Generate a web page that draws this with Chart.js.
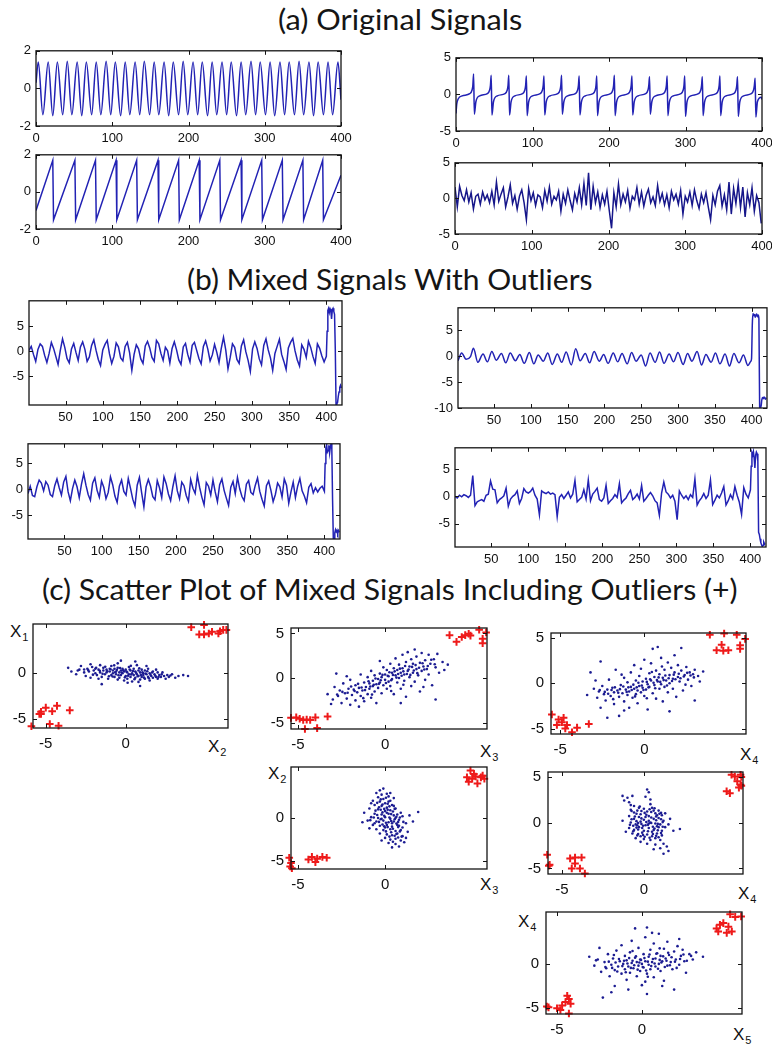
<!DOCTYPE html>
<html>
<head>
<meta charset="utf-8">
<script src="https://cdn.jsdelivr.net/npm/chart.js@4.4.1/dist/chart.umd.min.js"></script>
<style>
html, body { margin: 0; padding: 0; background: #fff; overflow: hidden; width: 772px; height: 1045px; }
.plot { position: absolute; }
.title { position: absolute; font-family: Lato, "DejaVu Sans", sans-serif; font-size: 28px; line-height: 28px; color: #151515; white-space: nowrap; transform-origin: 0 0; }
.lab { position: absolute; font-family: "Liberation Sans", Arial, sans-serif; font-size: 17px; line-height: 17px; color: #111; white-space: nowrap; }
.lab sub { font-size: 11px; vertical-align: -4px; line-height: 0; margin-left: 1px; }
</style>
</head>
<body>
<div class="title" style="left:278px;top:5px" data-w="244">(a) Original Signals</div>
<div class="title" style="left:187px;top:265px" data-w="406">(b) Mixed Signals With Outliers</div>
<div class="title" style="left:42px;top:575px" data-w="696">(c) Scatter Plot of Mixed Signals Including Outliers (+)</div>

<div class="lab" style="left:10px;top:623px">X<sub>1</sub></div>
<div class="lab" style="left:208px;top:738px">X<sub>2</sub></div>
<div class="lab" style="left:480px;top:743px">X<sub>3</sub></div>
<div class="lab" style="left:268px;top:765px">X<sub>2</sub></div>
<div class="lab" style="left:480px;top:876px">X<sub>3</sub></div>
<div class="lab" style="left:740px;top:746px">X<sub>4</sub></div>
<div class="lab" style="left:738px;top:885px">X<sub>4</sub></div>
<div class="lab" style="left:518px;top:913px">X<sub>4</sub></div>
<div class="lab" style="left:733px;top:1026px">X<sub>5</sub></div>

<script>
// ---- (a) original signals ----
// sine: extremes only
const sineX = [0,3,9,16,22,28,35,41,47,54,60,66,73,79,85,92,98,104,111,117,123,130,136,142,149,155,161,168,174,180,
  187,193,199,206,212,218,225,231,237,244,250,256,263,269,275,282,288,294,301,307,313,320,326,332,339,345,351,358,364,370,
  377,383,389,396,400];
const sineY = [0.3,
  1.4,-1.4,1.4,-1.45,1.4,-1.4,1.45,-1.4,1.4,-1.45,
  1.4,-1.4,1.4,-1.4,1.45,-1.4,1.4,-1.45,1.4,-1.4,
  1.4,-1.4,1.45,-1.4,1.4,-1.4,1.4,-1.45,1.4,-1.4,
  1.45,-1.4,1.4,-1.4,1.4,-1.45,1.4,-1.4,1.4,-1.4,
  1.4,-1.45,1.4,-1.4,1.45,-1.4,1.4,-1.4,1.4,-1.45,
  1.4,-1.4,1.4,-1.4,1.45,-1.4,1.4,-1.45,1.4,-1.4,
  1.4,-1.4,1.4,
  -0.6];

// sawtooth: corners
const sawX = [0,22,23,51,52,78,79,105,106,132,133,160,161,187,188,214,215,241,242,269,270,296,297,323,324,350,351,376,377,400];
const sawY = [-1.0,1.7,-1.5,1.7,-1.5,1.7,-1.5,1.7,-1.5,1.7,-1.5,1.7,-1.5,1.7,-1.5,1.7,-1.5,1.7,-1.5,1.7,-1.5,1.7,-1.5,1.7,-1.5,1.7,-1.5,1.7,-1.5,0.9];

// spiky periodic signal
const spikePts = [[0,-2.6],[1,-1.3],[3,-0.6],[8,-0.2],[18,0.1],[21,0.6],[22,1.2],[23,2.8],[24,-2.7],[26,-1.0],[31,-0.2],
  [41,0.1],[44,0.6],[45,1.2],[46,2.6],[47,-2.8],[49,-1.0],[54,-0.2],[64,0.1],[67,0.6],[68,1.2],[69,2.6],[70,-2.8],[72,-1.0],[77,-0.2],
  [87,0.1],[90,0.6],[91,1.2],[92,2.5],[93,-2.9],[95,-1.0],[100,-0.2],[110,0.1],[113,0.6],[114,1.2],[115,2.5],[116,-2.8],[118,-1.0],[123,-0.2],
  [133,0.1],[136,0.6],[137,1.2],[138,2.6],[139,-2.7],[141,-1.0],[146,-0.2],[156,0.1],[159,0.6],[160,1.2],[161,2.5],[162,-2.8],[164,-1.0],[169,-0.2],
  [179,0.1],[182,0.6],[183,1.2],[184,2.5],[185,-2.9],[187,-1.0],[192,-0.2],[202,0.1],[205,0.6],[206,1.2],[207,2.6],[208,-2.9],[210,-1.0],[215,-0.2],
  [225,0.1],[228,0.6],[229,1.2],[230,2.5],[231,-2.8],[233,-1.0],[238,-0.2],[248,0.1],[251,0.6],[252,1.2],[253,2.4],[254,-2.7],[256,-1.0],[261,-0.2],
  [271,0.1],[274,0.6],[275,1.2],[276,2.5],[277,-2.9],[279,-1.0],[284,-0.2],[294,0.1],[297,0.6],[298,1.2],[299,2.5],[300,-3.0],[302,-1.0],[307,-0.2],
  [317,0.1],[320,0.6],[321,1.2],[322,2.4],[323,-2.9],[325,-1.0],[330,-0.2],[340,0.1],[343,0.6],[344,1.2],[345,2.5],[346,-2.9],[348,-1.0],[353,-0.2],
  [363,0.1],[366,0.6],[367,1.2],[368,2.4],[369,-3.0],[371,-1.0],[376,-0.2],[386,0.1],[389,0.6],[390,1.2],[391,2.2],[392,-3.1],[394,-1.0],[399,-0.4],[400,-0.7]];

// noise, one value every 3 samples
const noiseStep = 3;
const noiseY = [1.6,-1.2,1.7,0.4,-0.3,1.2,-0.5,0.8,-1.5,0.3,0.6,-0.8,0.9,-0.2,0.5,-0.6,1.0,-0.9,2.3,-0.4,
  0.6,1.5,-1.2,0.2,1.9,-0.7,0.4,-1.5,0.3,1.2,-0.6,-3.0,1.4,-0.3,0.8,-1.0,0.5,0.2,-1.3,1.1,
  -0.4,1.6,-0.8,0.3,-0.2,1.0,-1.8,0.6,-0.7,1.2,-0.3,-1.6,0.7,-0.5,1.5,-0.9,2.1,-1.0,3.6,-1.6,
  1.7,-0.6,0.9,-1.3,0.5,-0.8,1.0,-1.7,-4.2,0.8,-1.2,2.0,-0.9,0.6,-0.5,1.1,-1.4,0.3,-0.2,1.5,
  -0.8,0.9,-1.1,0.4,1.3,-0.6,0.2,-1.0,1.8,-0.4,0.7,-0.9,0.5,-1.3,1.0,-0.2,0.6,-0.8,1.1,-2.2,
  0.3,-0.5,0.9,-1.0,1.2,-0.3,-1.4,0.6,-0.6,0.8,-1.2,-3.0,0.4,-0.9,1.0,1.8,-1.1,0.5,-1.6,2.3,
  -2.2,1.4,-0.7,2.0,-1.3,1.6,-2.6,0.8,-0.9,1.5,-1.8,0.4,-0.6,-3.5];

// ---- (b) mixed signals, 400 samples + 20 outliers ----
const mixStep = 3;
const mix1Y = [0.2,1.0,-0.6,-2.0,0.4,1.5,1.0,-0.8,-2.2,-0.4,
  1.8,0.6,-1.0,-2.6,0.2,2.5,0.8,-1.4,-2.3,0.5,
  1.6,-0.2,-1.8,0.9,1.9,0.4,-2.0,-1.1,1.2,2.3,
  0.2,-1.6,-2.8,0.3,1.4,2.2,-0.5,-2.4,-1.0,1.7,
  0.9,-1.3,-1.9,1.0,1.8,-0.3,-3.8,-0.6,1.3,0.5,
  -1.5,-2.4,1.1,2.0,0.7,-1.2,-2.0,2.2,1.5,-0.4,
  -1.8,0.8,0.1,-2.3,0.6,1.9,0.3,-1.7,-2.6,0.9,
  1.6,-0.6,-2.1,1.2,1.8,0.2,-1.4,-2.5,1.0,2.1,
  0.4,-1.9,-0.7,1.4,-0.2,-2.2,0.6,2.8,0.3,-3.5,
  -1.2,1.5,0.8,-1.6,-2.4,1.1,2.3,-0.1,-1.8,-4.0,
  0.5,1.9,0.6,-1.5,-2.7,1.2,2.5,0.3,-1.3,-3.8,
  -0.4,1.0,2.4,-0.6,-2.0,-3.6,0.7,1.8,2.6,0.1,
  -1.7,-2.9,1.3,0.4,-1.2,2.0,0.8,-1.0,-2.4,1.5,
  0.6,-0.9,-2.1,-1.0];
const mix1Out = [[401,4.0],[402,8.2],[403,8.6],[404,7.8],[405,8.5],[406,8.1],[407,6.5],[408,8.3],[409,8.6],[410,8.0],
  [411,7.4],[412,0.5],[413,-10.6],[414,-10.5],[415,-10.2],[416,-9.0],[417,-8.1],[418,-7.2],[419,-6.8],[420,-7.3]];

const mix2Pts = [[1,-0.9],[6,0.6],[12,-0.6],[18,-0.1],[22,1.5],[28,-1.2],[35,0.4],[41,-1.1],[47,0.9],[53,-0.8],
  [60,0.5],[66,-1.3],[72,0.6],[79,-0.9],[85,0.3],[91,-1.4],[98,0.7],[104,-1.5],[110,0.2],[117,-1.0],
  [123,0.6],[129,-1.6],[136,0.4],[142,-1.2],[148,0.8],[155,-1.7],[161,1.4],[167,-0.9],[174,0.5],[180,-1.3],
  [186,0.9],[193,-1.0],[199,0.3],[205,-1.4],[212,0.6],[218,-1.1],[224,0.5],[231,-1.5],[237,0.7],[243,-1.0],
  [250,0.2],[256,-1.9],[262,0.6],[269,-1.2],[275,0.8],[281,-1.4],[288,0.4],[294,-1.1],[300,0.7],[307,-1.6],
  [313,0.5],[319,-1.0],[326,0.9],[332,-1.7],[338,0.3],[345,-1.2],[351,0.6],[357,-1.5],[364,0.4],[370,-1.9],
  [376,0.5],[383,-1.3],[389,0.2],[395,-1.8],[399,-1.0],[400,-0.5]];
const mix2Out = [[401,6.0],[402,8.2],[403,7.8],[404,8.0],[405,7.5],[406,7.9],[407,8.1],[408,7.6],[409,7.9],[410,7.2],
  [411,-9.8],[412,-10.0],[413,-9.6],[414,-8.4],[415,-8.0],[416,-8.2],[417,-7.9],[418,-8.1],[419,-8.3],[420,-8.0]];

const mix3Y = [-0.8,0.6,-1.2,-1.4,0.5,1.8,1.2,-0.3,1.5,0.8,
  -1.0,-1.4,0.7,2.0,0.3,-1.1,1.4,2.5,-0.5,-2.2,
  0.2,1.8,0.5,-1.6,1.0,3.0,0.8,-1.0,-2.1,1.2,
  2.2,-0.2,-1.5,1.6,0.4,-1.8,-0.6,2.4,0.9,-1.3,
  -2.5,0.6,1.8,-0.4,-1.1,2.1,0.2,-1.9,-3.2,0.8,
  2.3,-0.7,-3.4,0.5,1.9,0.6,-1.4,-2.0,1.7,0.3,
  -1.6,2.4,1.1,-0.9,-2.2,0.5,2.6,-0.3,-1.8,1.4,
  0.7,-1.2,-2.3,1.9,0.2,-0.8,2.7,0.4,-1.5,-3.0,
  1.3,0.6,-1.1,1.8,-0.5,-2.4,0.9,2.0,-0.2,-1.7,
  -3.1,0.4,1.5,-0.8,2.3,0.1,-1.4,-2.2,1.0,1.7,
  -0.6,-1.0,0.8,2.2,-0.4,-1.9,-3.2,0.7,1.6,-0.2,
  -2.4,-1.0,1.2,0.5,-1.5,2.0,0.8,-2.7,-0.5,1.4,
  -1.6,0.6,2.1,-0.3,-1.3,-2.6,0.4,1.1,-0.7,0.3,
  -0.5,0.2,0.6,-0.4];
const mix3Out = [[401,5.0],[402,8.0],[403,8.6],[404,7.2],[405,7.5],[406,8.5],[407,7.0],[408,8.2],[409,8.8],[410,7.8],
  [411,-2.0],[412,-9.6],[413,-9.5],[414,-8.4],[415,-7.8],[416,-8.2],[417,-7.9],[418,-8.5],[419,-8.0],[420,-8.3]];

const mix4Y = [0.0,-0.3,0.2,-0.1,0.3,0.1,-0.2,0.2,3.8,-1.7,
  -1.0,-0.8,-0.6,-0.9,0.2,0.4,2.8,1.3,1.2,-1.2,
  -0.6,-0.3,0.1,1.5,-1.8,-0.5,0.0,0.3,1.0,-1.3,
  -0.4,1.4,0.8,0.6,0.9,1.5,0.2,-0.5,-3.4,1.0,
  0.7,0.5,0.8,0.4,0.6,0.3,-3.7,-0.2,0.3,-0.4,
  0.2,0.8,-0.3,0.4,2.9,-1.0,-0.6,-0.2,1.2,-0.5,
  3.0,-0.8,0.4,0.9,1.5,-0.6,-0.9,-0.3,2.0,-1.3,
  -0.8,-0.4,0.3,-0.2,2.3,-1.2,-0.7,-0.3,0.5,1.1,
  -0.6,-0.2,0.4,-0.5,2.0,-0.9,-0.4,0.2,0.7,0.1,
  -0.8,-1.2,-3.5,0.6,2.6,0.8,0.4,-0.3,0.2,-0.9,
  -4.3,1.0,0.2,-0.4,0.1,-0.6,0.3,-0.2,3.2,-1.6,
  -0.8,-0.3,0.5,-0.4,0.2,3.0,-1.5,-0.7,0.2,-0.3,
  0.6,1.8,-1.6,-0.8,0.3,-0.5,1.8,0.2,-1.1,-3.3,
  1.6,0.4,-0.3,1.2];
const mix4Out = [[401,5.5],[402,8.0],[403,7.6],[404,8.2],[405,7.0],[406,5.2],[407,7.5],[408,8.1],[409,7.8],[410,6.5],
  [411,-6.6],[412,-7.0],[413,-7.8],[414,-8.5],[415,-8.9],[416,-9.2],[417,-9.0],[418,-8.4],[419,-8.7],[420,-8.8]];

// ---- (c) scatter clouds [x, y] and outliers ----
const sc12 = [[-3.6,0.6],[-3.4,0.2],[-3.1,-0.1],[-2.9,0.4],[-2.8,0.8],[-2.6,0.1],[-2.5,-0.3],[-2.4,0.5],[-2.3,0.2],[-2.2,-0.5],
  [-2.1,0.7],[-2.0,0.3],[-1.9,0.0],[-1.9,0.5],[-1.8,-0.2],[-1.7,0.4],[-1.6,0.9],[-1.6,0.1],[-1.5,-0.4],[-1.4,0.3],
  [-1.4,0.6],[-1.3,-0.1],[-1.2,0.4],[-1.2,0.1],[-1.1,-0.6],[-1.0,0.5],[-1.0,0.2],[-0.9,-0.2],[-0.9,0.8],[-0.8,0.3],
  [-0.8,0.0],[-0.7,-0.4],[-0.7,0.5],[-0.6,0.2],[-0.6,-0.1],[-0.5,0.6],[-0.5,1.1],[-0.4,0.1],[-0.4,-0.5],[-0.3,0.3],
  [-0.3,-0.2],[-0.2,0.5],[-0.2,0.0],[-0.1,-0.8],[-0.1,0.2],[0.0,0.4],[0.0,-0.3],[0.1,0.1],[0.1,-0.6],[0.2,0.7],
  [0.2,-0.1],[0.3,0.3],[0.3,-0.4],[0.4,0.0],[0.4,-0.9],[0.5,0.5],[0.5,-0.2],[0.6,0.2],[0.6,-0.5],[0.7,-0.1],
  [0.7,0.9],[0.8,0.3],[0.8,-0.3],[0.9,-0.7],[0.9,0.1],[1.0,-0.4],[1.0,0.4],[1.1,0.0],[1.1,-0.2],[1.2,-0.6],
  [1.2,0.3],[1.3,-0.1],[1.4,-0.4],[1.4,0.5],[1.5,0.0],[1.5,-0.8],[1.6,-0.3],[1.7,0.2],[1.7,-0.5],[1.8,-0.1],
  [1.9,-0.4],[2.0,0.1],[2.0,-0.6],[2.1,-0.2],[2.2,-0.4],[2.3,0.1],[2.4,-0.3],[2.5,-0.6],[2.6,-0.2],[2.7,-0.4],
  [2.9,-0.1],[3.1,-0.5],[3.3,-0.3],[3.6,-0.2],[-0.3,1.4],[0.6,1.3],[-1.5,-1.2],[0.9,-1.4],[-2.2,1.0],[1.3,0.8],
  [-2.35,0.35],[-2.05,-0.15],[-1.85,0.62],[-1.62,0.28],[-1.45,-0.05],[-1.28,0.72],[-1.15,0.22],[-0.95,0.45],[-0.82,-0.35],[-0.66,0.12],
  [-0.55,0.38],[-0.45,-0.22],[-0.35,0.58],[-0.25,0.08],[-0.15,0.33],[-0.05,-0.45],[0.05,0.18],[0.15,-0.28],[0.25,0.42],[0.35,-0.12],
  [0.45,0.25],[0.55,-0.65],[0.65,0.05],[0.75,-0.32],[0.85,0.55],[0.95,-0.18],[1.05,0.12],[1.15,-0.48],[1.25,-0.02],[1.35,0.22],
  [1.45,-0.55],[1.55,-0.15],[1.65,0.08],[1.85,-0.28],[2.05,-0.42],[2.25,-0.12],[-0.72,0.88],[0.32,0.82],[-1.05,-0.32],[0.12,-1.05],
  [-2.6,0.42],[2.8,-0.25],[-3.0,0.3],[3.9,-0.3],[-0.5,-0.7],[0.8,-0.95],[-1.7,-0.6],[1.9,0.4]];
const out12 = [[4.1,5.1],[4.6,4.3],[4.9,5.35],[4.9,4.3],[5.2,4.4],[5.8,4.4],[5.9,4.65],[6.1,4.8],[6.3,4.8],[5.4,4.6],
  [-5.9,-5.85],[-5.4,-4.5],[-5.3,-4.25],[-5.0,-3.8],[-4.6,-4.2],[-4.3,-3.6],[-4.75,-5.6],[-4.2,-5.8],[-3.5,-4.1],[-5.3,-4.5]];

const sc13 = [[-3.3,-1.8],[-3.0,-2.4],[-2.9,-1.0],[-2.7,-2.0],[-2.6,-1.4],[-2.5,-2.8],[-2.4,-0.6],[-2.3,-1.7],[-2.2,-2.3],[-2.1,-1.2],
  [-2.0,-3.0],[-2.0,-0.2],[-1.9,-1.9],[-1.8,-1.3],[-1.7,-2.5],[-1.7,-0.8],[-1.6,-1.6],[-1.5,-3.2],[-1.5,-1.1],[-1.4,0.4],
  [-1.4,-2.0],[-1.3,-1.4],[-1.2,-0.5],[-1.2,-2.6],[-1.1,-1.0],[-1.0,-1.8],[-1.0,0.1],[-0.9,-1.2],[-0.9,-0.6],[-0.8,-2.2],
  [-0.8,0.8],[-0.7,-0.9],[-0.7,-0.3],[-0.6,-1.5],[-0.6,0.3],[-0.5,-0.7],[-0.5,-2.8],[-0.4,-0.1],[-0.4,-1.1],[-0.3,0.5],
  [-0.3,-0.5],[-0.2,-1.7],[-0.2,0.1],[-0.1,-0.8],[-0.1,1.2],[0.0,-0.2],[0.0,0.4],[0.1,-1.2],[0.1,0.9],[0.2,-0.4],
  [0.2,0.2],[0.3,1.6],[0.3,-0.9],[0.4,0.6],[0.4,-0.1],[0.5,1.1],[0.5,-1.8],[0.6,0.3],[0.6,2.2],[0.7,-0.5],
  [0.7,0.9],[0.8,1.5],[0.8,0.0],[0.9,-1.2],[0.9,0.6],[1.0,2.6],[1.0,1.1],[1.1,-0.3],[1.1,0.4],[1.2,1.8],
  [1.2,-2.1],[1.3,0.8],[1.3,2.9],[1.4,0.1],[1.4,1.3],[1.5,-0.9],[1.5,2.1],[1.6,0.6],[1.6,1.6],[1.7,3.2],
  [1.7,-0.4],[1.8,1.0],[1.8,2.4],[1.9,0.3],[2.0,1.7],[2.0,-1.5],[2.1,2.8],[2.1,0.8],[2.2,1.3],[2.3,2.0],
  [2.3,-0.2],[2.4,1.0],[2.5,2.6],[2.5,0.4],[2.6,1.6],[2.7,-0.8],[2.8,2.1],[2.9,1.2],[3.0,2.7],[3.1,0.6],
  [3.3,1.8],[3.6,1.5],[-2.8,0.5],[-3.1,-2.9],[0.9,-2.8],[2.9,-2.4],
  [-2.75,-1.85],[-2.45,-1.55],[-2.15,-1.65],[-1.95,-0.95],[-1.75,-1.45],[-1.55,-0.65],[-1.35,-1.05],[-1.15,-1.35],[-0.95,-0.35],[-0.85,-0.95],
  [-0.65,-0.75],[-0.55,-0.05],[-0.35,-0.65],[-0.25,-0.25],[-0.15,0.35],[0.05,-0.55],[0.15,0.25],[0.25,0.65],[0.35,-0.25],[0.45,0.35],
  [0.55,0.75],[0.65,0.05],[0.75,0.45],[0.85,1.05],[0.95,0.25],[1.05,0.75],[1.15,1.35],[1.25,0.45],[1.35,0.95],[1.45,0.35],
  [1.55,1.25],[1.65,0.85],[1.75,1.45],[1.85,0.55],[1.95,1.15],[2.15,1.65],[2.25,0.95],[2.45,1.35],[2.65,2.05],[2.85,1.55],
  [-1.25,-2.25],[-0.75,-1.85],[0.35,-1.45],[1.05,-0.75],[-2.2,0.2],[-0.3,1.9],[2.2,-1.0],[3.4,0.9]];
const out13 = [[3.7,4.8],[4.1,4.05],[4.4,4.6],[4.6,4.8],[4.8,4.95],[4.9,4.75],[5.4,5.4],[5.6,4.4],[5.6,3.9],[5.8,5.1],
  [-5.4,-4.45],[-5.1,-4.4],[-4.9,-4.55],[-4.7,-4.7],[-4.5,-4.65],[-4.3,-4.7],[-4.0,-4.4],[-4.6,-5.7],[-3.9,-5.6],[-3.3,-4.3]];

const sc23 = [[-0.3,3.2],[-0.1,3.4],[-0.5,2.9],[-0.2,2.7],[0.1,2.8],[-0.4,2.4],[-0.1,2.2],[0.2,2.5],[-0.7,2.0],[-0.3,1.9],
  [0.0,1.7],[0.3,2.0],[-0.6,1.5],[-0.2,1.4],[0.1,1.2],[0.4,1.5],[-0.9,1.1],[-0.4,1.0],[0.0,0.8],[0.3,0.9],
  [0.6,1.1],[-1.2,0.6],[-0.6,0.5],[-0.2,0.4],[0.2,0.5],[0.5,0.3],[0.9,0.6],[-0.8,0.1],[-0.4,0.0],[0.0,0.1],
  [0.3,-0.1],[0.6,0.0],[1.0,0.2],[1.4,0.3],[-1.0,-0.3],[-0.5,-0.4],[-0.1,-0.3],[0.2,-0.5],[0.5,-0.4],[0.8,-0.2],
  [1.2,-0.6],[-0.7,-0.8],[-0.3,-0.9],[0.1,-0.8],[0.4,-1.0],[0.7,-0.8],[1.0,-1.1],[-0.5,-1.3],[-0.1,-1.4],[0.3,-1.3],
  [0.6,-1.5],[0.9,-1.4],[1.3,-1.6],[-0.3,-1.8],[0.1,-1.9],[0.4,-2.0],[0.7,-1.8],[1.0,-2.1],[0.0,-2.3],[0.3,-2.5],
  [0.6,-2.4],[0.9,-2.6],[0.2,-2.9],[0.6,-3.0],[0.8,-3.3],[0.4,-3.4],[1.1,-2.8],[-0.2,-2.6],[-0.8,1.7],[0.5,2.3],
  [1.9,0.7],[1.6,-0.4],[-1.3,-0.5],[0.1,0.6],[0.4,-0.6],[-0.2,-0.1],[0.2,1.9],[0.8,-0.9],[0.0,-1.1],[0.5,1.4],
  [-0.6,-0.6],[0.7,0.4],[0.3,2.9],[-0.9,-1.2],[1.2,-2.3],
  [-0.25,2.15],[0.05,2.35],[-0.45,1.75],[-0.15,1.55],[0.15,1.65],[-0.35,1.25],[-0.05,1.05],[0.25,1.35],[-0.55,0.85],[-0.15,0.65],
  [0.15,0.95],[0.45,0.75],[-0.45,0.35],[-0.05,0.25],[0.35,0.45],[0.65,0.15],[-0.25,-0.15],[0.05,-0.55],[0.35,-0.35],[0.65,-0.65],
  [-0.15,-0.75],[0.15,-1.05],[0.45,-1.25],[0.75,-1.05],[0.05,-1.55],[0.35,-1.65],[0.65,-1.85],[0.85,-1.55],[0.25,-2.15],[0.55,-2.05],
  [0.75,-2.25],[0.45,-2.75],[0.95,-2.15],[-0.65,0.05],[0.85,0.05],[-0.35,-0.45],[0.55,-0.15],[0.25,0.05],[-0.05,-0.95],[0.55,1.05],
  [-0.85,-0.25],[1.05,-0.45],[-0.25,0.95],[0.75,-0.45]];
const out23 = [[4.9,5.5],[4.7,4.7],[5.0,4.55],[5.2,4.8],[5.5,4.7],[5.7,4.55],[4.8,4.2],[5.3,4.0],[5.6,4.9],[5.1,5.1],
  [-5.5,-4.6],[-5.45,-5.6],[-5.35,-5.8],[-4.2,-4.5],[-3.9,-4.7],[-3.6,-4.5],[-3.35,-4.6],[-4.0,-5.1],[-4.4,-4.8],[-5.4,-5.2]];

const sc14 = [[-3.2,1.2],[-3.4,-1.3],[-3.0,-0.6],[-2.8,-1.6],[-2.7,-0.9],[-2.6,-2.7],[-2.5,-0.3],[-2.4,-1.2],[-2.3,-1.9],[-2.2,-3.8],
  [-2.2,-0.7],[-2.1,0.4],[-2.0,-1.4],[-1.9,-0.5],[-1.8,-2.3],[-1.8,-1.0],[-1.7,1.5],[-1.6,-0.8],[-1.5,-3.6],[-1.5,-1.5],
  [-1.4,-0.2],[-1.3,-1.1],[-1.2,-2.0],[-1.2,0.6],[-1.1,-0.7],[-1.0,-1.3],[-1.0,0.1],[-0.9,-2.7],[-0.9,-0.9],[-0.8,1.2],
  [-0.8,-0.4],[-0.7,-1.6],[-0.6,-0.6],[-0.6,2.0],[-0.5,-1.2],[-0.5,0.3],[-0.4,-0.8],[-0.4,-2.2],[-0.3,0.8],[-0.3,-0.3],
  [-0.2,-1.0],[-0.2,1.6],[-0.1,-0.5],[-0.1,0.2],[0.0,-1.4],[0.0,2.6],[0.1,0.5],[0.1,-0.7],[0.2,-0.1],[0.2,-2.9],
  [0.3,1.1],[0.3,-0.4],[0.4,0.3],[0.4,2.2],[0.5,3.8],[0.5,-1.1],[0.6,0.7],[0.6,-0.2],[0.7,1.4],[0.7,-1.7],
  [0.8,4.0],[0.8,0.2],[0.9,-0.6],[0.9,1.0],[1.0,2.8],[1.0,-0.1],[1.1,0.6],[1.1,-2.0],[1.2,1.5],[1.2,-0.4],
  [1.3,0.3],[1.4,2.3],[1.4,-1.0],[1.5,0.9],[1.5,0.0],[1.6,1.7],[1.7,-0.6],[1.7,0.5],[1.8,3.1],[1.8,1.2],
  [1.9,-1.5],[2.0,0.7],[2.0,2.0],[2.1,0.2],[2.2,3.9],[2.2,1.4],[2.3,-0.8],[2.4,0.9],[2.5,1.8],[2.6,0.4],
  [2.7,1.2],[2.8,-0.3],[2.9,1.0],[3.0,1.5],[3.2,0.8],[3.5,1.3],[-2.6,2.4],[3.0,-1.9],[1.5,-3.1],[-1.2,-3.0],
  [-2.65,-0.75],[-2.35,-0.95],[-2.15,-1.15],[-1.95,-0.75],[-1.75,-0.45],[-1.55,-1.05],[-1.45,-0.65],[-1.25,-0.35],[-1.05,-0.95],[-0.95,-0.45],
  [-0.75,-0.75],[-0.65,-0.15],[-0.45,-0.45],[-0.35,0.05],[-0.15,-0.25],[-0.05,-0.75],[0.15,0.15],[0.25,-0.45],[0.35,0.45],[0.55,0.05],
  [0.65,-0.55],[0.75,0.35],[0.85,0.65],[0.95,0.15],[1.15,0.35],[1.25,0.85],[1.35,-0.25],[1.45,0.55],[1.65,0.25],[1.75,0.95],
  [1.85,0.45],[2.05,1.05],[2.15,0.55],[2.35,0.75],[2.55,1.15],[2.75,0.85],[2.95,0.65],[-1.85,-1.75],[-0.55,-1.45],[0.45,1.25],
  [1.05,1.85],[-1.35,0.95],[0.15,-1.65],[2.45,-0.15],[-2.9,0.3],[3.3,0.2]];
const out14 = [[3.9,5.35],[4.75,5.5],[5.5,5.35],[6.0,4.9],[4.6,4.25],[4.3,3.65],[4.7,3.6],[5.0,3.65],[5.7,4.2],[5.7,3.8],
  [-5.5,-3.45],[-5.1,-4.0],[-4.8,-3.8],[-5.2,-4.6],[-4.6,-4.6],[-4.7,-5.0],[-4.3,-5.4],[-4.0,-4.9],[-3.3,-4.5],[-4.9,-4.3]];

const sc24 = [[-1.3,2.9],[-1.2,2.4],[-1.0,2.7],[-0.9,2.2],[-0.7,2.9],[-0.8,1.9],[0.2,3.6],[0.3,3.3],[0.1,2.8],[-0.3,1.6],
  [0.4,2.0],[-0.8,1.4],[-0.6,1.1],[-0.4,1.3],[-0.2,0.9],[0.0,1.5],[0.2,1.2],[0.5,1.6],[0.7,1.0],[0.9,1.3],
  [1.1,0.8],[-0.9,0.7],[-0.6,0.4],[-0.3,0.6],[0.0,0.3],[0.3,0.7],[0.6,0.4],[0.9,0.5],[1.2,0.2],[-0.8,0.0],
  [-0.5,-0.2],[-0.2,0.1],[0.1,-0.3],[0.4,0.0],[0.7,-0.1],[1.0,-0.2],[-0.9,-0.6],[-0.6,-0.8],[-0.3,-0.5],[0.0,-0.9],
  [0.3,-0.6],[0.6,-0.8],[0.9,-0.5],[1.1,-0.9],[-0.7,-1.2],[-0.4,-1.4],[-0.1,-1.1],[0.2,-1.3],[0.5,-1.5],[0.8,-1.2],
  [1.1,-1.4],[-0.5,-1.7],[0.0,-1.8],[0.4,-1.9],[0.7,-1.7],[1.0,-1.9],[1.3,-0.5],[1.5,-0.2],[1.8,-0.9],[2.2,-0.7],
  [1.6,0.4],[-1.1,-1.0],[-1.3,0.2],[0.2,-2.3],[0.7,-2.4],[1.2,-2.3],[1.4,-2.6],[1.5,-3.1],[1.2,-3.4],[0.6,-2.9],
  [1.0,-2.8],[-0.2,-2.1],[0.3,0.2],[0.8,0.8],[-0.4,-0.3],[0.5,-1.0],[0.1,0.6],[-0.1,-0.6],[0.6,1.3],[0.9,-1.6],
  [-0.6,1.8],[0.4,2.5],[0.8,-0.4],[-0.2,-1.5],[1.3,1.0],[0.3,-0.1],
  [-0.75,1.25],[-0.45,0.95],[-0.15,1.25],[0.15,0.85],[0.45,1.15],[0.75,0.65],[1.05,1.05],[-0.75,0.35],[-0.45,0.15],[-0.15,0.45],
  [0.15,0.05],[0.45,0.55],[0.75,0.25],[1.05,0.35],[-0.65,-0.35],[-0.35,-0.05],[-0.05,-0.35],[0.25,-0.25],[0.55,-0.45],[0.85,-0.15],
  [1.15,-0.45],[-0.65,-0.95],[-0.35,-0.75],[-0.05,-1.35],[0.25,-0.95],[0.55,-1.25],[0.85,-0.85],[1.05,-1.15],[-0.35,-1.25],[0.05,-1.55],
  [0.35,-1.65],[0.75,-1.45],[-0.55,0.65],[0.35,1.45],[0.65,1.55],[-0.25,1.75],[0.95,0.95],[-0.85,-0.25],[1.15,0.05],[0.05,1.05],
  [0.45,-0.05],[-0.15,-0.15],[0.65,-0.65],[-0.45,-0.55]];
const out24 = [[5.35,5.2],[5.55,5.0],[5.9,5.2],[5.95,4.95],[5.7,4.5],[5.9,4.1],[5.95,4.0],[5.05,3.4],[5.25,3.2],[5.8,3.8],
  [-5.9,-3.5],[-5.8,-4.7],[-4.5,-3.9],[-4.2,-3.8],[-3.8,-3.8],[-4.2,-4.45],[-4.4,-5.0],[-3.9,-5.0],[-3.6,-5.55],[-5.75,-4.6]];

const sc45 = [[-3.1,0.8],[-2.8,-0.2],[-2.6,0.5],[-2.4,-0.9],[-2.3,-3.8],[-2.2,0.2],[-2.1,-0.5],[-2.0,1.1],[-1.9,-1.4],[-1.8,-0.1],
  [-1.7,0.6],[-1.6,-0.7],[-1.6,-2.5],[-1.5,1.5],[-1.4,-0.3],[-1.3,0.3],[-1.2,-1.1],[-1.2,2.1],[-1.1,0.0],[-1.0,-0.6],
  [-1.0,0.9],[-0.9,-1.8],[-0.9,0.4],[-0.8,-0.3],[-0.7,1.3],[-0.7,-1.0],[-0.6,0.1],[-0.6,2.6],[-0.5,-0.5],[-0.4,4.0],
  [-0.4,0.7],[-0.3,-1.4],[-0.3,0.2],[-0.2,-0.2],[-0.2,1.8],[-0.1,-0.8],[-0.1,0.5],[0.0,-2.4],[0.0,0.0],[0.1,1.1],
  [0.1,-0.4],[0.2,0.3],[0.2,3.0],[0.3,4.1],[0.3,-3.4],[0.3,-1.1],[0.4,0.8],[0.4,-0.1],[0.5,1.6],[0.5,-0.6],
  [0.6,0.2],[0.7,2.3],[0.7,-1.5],[0.8,0.6],[0.8,-0.3],[0.9,1.2],[1.0,0.0],[1.0,3.4],[1.1,-0.8],[1.1,0.9],
  [1.2,0.3],[1.3,1.7],[1.3,-1.9],[1.4,0.6],[1.5,-0.2],[1.5,2.5],[1.6,1.0],[1.7,0.2],[1.8,-0.6],[1.9,-2.9],
  [1.9,1.4],[2.0,0.5],[2.1,2.0],[2.2,-0.1],[2.3,0.9],[2.4,1.6],[2.5,0.3],[2.6,-1.0],[2.8,1.1],[3.0,0.5],
  [3.2,1.3],[3.6,0.8],[-1.8,-3.2],[-0.8,-2.9],[1.2,-2.5],[2.2,2.8],[-2.5,1.8],[0.6,3.5],
  [-2.15,-0.35],[-1.95,0.25],[-1.75,-0.45],[-1.55,0.15],[-1.45,-0.85],[-1.35,0.55],[-1.15,-0.25],[-1.05,0.35],[-0.95,-0.95],[-0.85,0.05],
  [-0.75,0.65],[-0.65,-0.45],[-0.55,0.35],[-0.45,-0.15],[-0.35,0.85],[-0.25,-0.65],[-0.15,0.15],[-0.05,0.45],[0.05,-0.35],[0.15,0.65],
  [0.25,-0.75],[0.35,0.25],[0.45,1.05],[0.55,-0.25],[0.65,0.55],[0.75,0.05],[0.85,1.15],[0.95,-0.55],[1.05,0.45],[1.15,0.15],
  [1.25,0.85],[1.35,-0.35],[1.45,0.35],[1.55,1.25],[1.65,-0.15],[1.75,0.75],[1.95,0.25],[2.05,-0.45],[2.25,0.55],[2.45,1.05],
  [2.65,0.35],[-0.55,1.45],[0.35,-1.45],[1.05,1.75],[-1.65,1.0],[2.9,0.9],[-2.7,0.4],[0.2,-2.0]];
const out45 = [[5.2,5.6],[5.5,5.3],[5.85,5.35],[4.6,4.4],[4.8,4.6],[4.4,4.0],[4.5,3.65],[5.0,3.5],[5.3,3.65],[5.1,4.2],
  [-5.6,-4.8],[-5.5,-4.9],[-4.8,-5.2],[-4.7,-4.7],[-4.4,-3.6],[-4.3,-3.95],[-4.2,-4.5],[-4.5,-4.3],[-4.3,-5.6],[-5.0,-5.0]];

// tick labels
const ticksA = [0, 100, 200, 300, 400];
const ticksB = [50, 100, 150, 200, 250, 300, 350, 400];

// ---- drawing ----
const PADL = 44, PADT = 12, PADR = 18, PADB = 30;
const LINE = '#2222b4', DARK = '#16168a', DOT = '#1c1c92', RED = '#ee1a1a';

const frame = {
  id: 'frame',
  afterDraw(chart) {
    const { ctx, chartArea: a, scales } = chart;
    ctx.save();
    ctx.strokeStyle = '#141414';
    ctx.lineWidth = 1.3;
    ctx.strokeRect(a.left, a.top, a.right - a.left, a.bottom - a.top);
    ctx.lineWidth = 1;
    ctx.beginPath();
    scales.x.ticks.forEach(t => {
      const p = Math.round(scales.x.getPixelForValue(t.value)) + 0.5;
      ctx.moveTo(p, a.bottom); ctx.lineTo(p, a.bottom - 4);
      ctx.moveTo(p, a.top); ctx.lineTo(p, a.top + 4);
    });
    scales.y.ticks.forEach(t => {
      const p = Math.round(scales.y.getPixelForValue(t.value)) + 0.5;
      ctx.moveTo(a.left, p); ctx.lineTo(a.left + 4, p);
      ctx.moveTo(a.right, p); ctx.lineTo(a.right - 4, p);
    });
    ctx.stroke();
    ctx.restore();
  }
};

function axis(min, max, ticks, horiz, size, pad) {
  return {
    type: 'linear', min: min, max: max,
    afterBuildTicks: s => { s.ticks = ticks.map(v => ({ value: v })); },
    afterFit: s => { if (horiz) s.height = PADB; else s.width = PADL; },
    grid: { display: false, drawTicks: false },
    border: { display: false },
    ticks: {
      color: '#111', padding: pad, maxRotation: 0, autoSkip: false,
      font: { family: '"Liberation Sans", Arial, sans-serif', size: size },
      callback: v => String(v)
    }
  };
}

function makePlot(box, xr, yr, xt, yt, datasets, big) {
  const w = box.r - box.l + PADL + PADR, h = box.b - box.t + PADT + PADB;
  const div = document.createElement('div');
  div.className = 'plot';
  div.style.left = (box.l - PADL) + 'px';
  div.style.top = (box.t - PADT) + 'px';
  const cv = document.createElement('canvas');
  cv.width = w; cv.height = h;
  cv.style.width = w + 'px'; cv.style.height = h + 'px';
  div.appendChild(cv);
  document.body.appendChild(div);
  const size = big ? 15 : 13, pad = big ? 7 : 5;
  new Chart(cv, {
    type: 'scatter',
    data: { datasets: datasets },
    options: {
      responsive: false, animation: false, devicePixelRatio: 1,
      layout: { padding: { left: 0, top: PADT, right: PADR, bottom: 0 } },
      plugins: { legend: { display: false }, tooltip: { enabled: false } },
      scales: {
        x: axis(xr[0], xr[1], xt, true, size, pad),
        y: axis(yr[0], yr[1], yt, false, size, pad)
      }
    },
    plugins: [frame]
  });
}

const zip = (xs, ys) => xs.map((x, i) => ({ x: x, y: ys[i] }));
const grid = (ys, step, start) => ys.map((y, i) => ({ x: start + i * step, y: y }));
const pairs = arr => arr.map(p => ({ x: p[0], y: p[1] }));

function line(points, color, smooth) {
  return {
    data: points, showLine: true, pointRadius: 0, borderColor: color, borderWidth: 1.5,
    cubicInterpolationMode: smooth ? 'monotone' : 'default', tension: 0
  };
}
function cloud(pts) {
  return { data: pairs(pts), pointRadius: 1.3, pointBorderWidth: 0, backgroundColor: DOT, borderColor: DOT };
}
function crosses(pts) {
  return { data: pairs(pts), pointStyle: 'cross', pointRadius: 3.8, pointBorderWidth: 2, borderColor: RED, backgroundColor: RED, clip: false };
}

// (a)
makePlot({ l: 36, t: 50, r: 341, b: 126 }, [0, 400], [-2, 2], ticksA, [-2, 0, 2], [line(zip(sineX, sineY), LINE, true)]);
makePlot({ l: 36, t: 154, r: 341, b: 229 }, [0, 400], [-2, 2], ticksA, [-2, 0, 2], [line(zip(sawX, sawY), LINE, false)]);
makePlot({ l: 456, t: 57, r: 762, b: 131 }, [0, 400], [-5, 5], ticksA, [-5, 0, 5], [line(pairs(spikePts), LINE, true)]);
makePlot({ l: 455, t: 162, r: 762, b: 234 }, [0, 400], [-5, 5], ticksA, [-5, 0, 5], [line(grid(noiseY, noiseStep, 0), DARK, false)]);

// (b)
makePlot({ l: 29, t: 300, r: 342, b: 405 }, [1, 421], [-10.7, 10.1], ticksB, [-5, 0, 5],
  [line(grid(mix1Y, mixStep, 1).concat(pairs(mix1Out)), LINE, false)]);
makePlot({ l: 458, t: 307, r: 767, b: 408 }, [1, 421], [-10, 9.3], ticksB, [-10, -5, 0, 5],
  [line(pairs(mix2Pts).concat(pairs(mix2Out)), LINE, true)]);
makePlot({ l: 28, t: 443, r: 340, b: 539 }, [1, 421], [-9.6, 8.8], ticksB, [-5, 0, 5],
  [line(grid(mix3Y, mixStep, 1).concat(pairs(mix3Out)), LINE, false)]);
makePlot({ l: 455, t: 447, r: 766, b: 547 }, [1, 421], [-9.3, 8.9], ticksB, [-5, 0, 5],
  [line(grid(mix4Y, mixStep, 1).concat(pairs(mix4Out)), LINE, false)]);

// (c)
makePlot({ l: 33, t: 620, r: 228, b: 728 }, [-5.8, 6.4], [-6.05, 5.45], [-5, 0], [-5, 0], [cloud(sc12), crosses(out12)], true);
makePlot({ l: 291, t: 624, r: 487, b: 729 }, [-5.4, 5.85], [-5.7, 5.6], [-5, 0], [-5, 0, 5], [cloud(sc13), crosses(out13)], true);
makePlot({ l: 291, t: 763, r: 487, b: 869 }, [-5.4, 5.85], [-5.9, 5.9], [-5, 0], [-5, 0], [cloud(sc23), crosses(out23)], true);
makePlot({ l: 551, t: 629, r: 746, b: 734 }, [-5.55, 6.05], [-5.6, 5.55], [-5, 0], [-5, 0, 5], [cloud(sc14), crosses(out14)], true);
makePlot({ l: 548, t: 768, r: 743, b: 874 }, [-5.85, 6.05], [-5.6, 5.5], [-5, 0], [-5, 0, 5], [cloud(sc24), crosses(out24)], true);
makePlot({ l: 546, t: 908, r: 742, b: 1014 }, [-5.65, 5.9], [-5.65, 5.85], [-5, 0], [-5, 0], [cloud(sc45), crosses(out45)], true);

// fit titles to their measured widths
document.querySelectorAll('.title').forEach(el => {
  const target = parseFloat(el.dataset.w);
  el.style.transform = 'scaleX(' + (target / el.offsetWidth) + ')';
});
</script>
</body>
</html>
